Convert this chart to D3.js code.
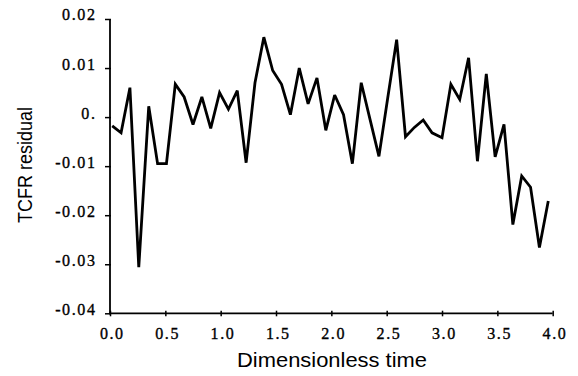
<!DOCTYPE html>
<html>
<head>
<meta charset="utf-8">
<script src="https://cdn.jsdelivr.net/npm/d3@7"></script>
<style>
  html, body { margin: 0; padding: 0; background: #fff; }
  svg { display: block; }
</style>
</head>
<body>
<svg id="chart" width="578" height="376"></svg>
<script>
// ---- data ----
const times = [0.02, 0.10, 0.18, 0.26, 0.35, 0.43, 0.51, 0.59, 0.67, 0.75,
               0.83, 0.91, 0.99, 1.07, 1.15, 1.23, 1.31, 1.39, 1.47, 1.55,
               1.63, 1.71, 1.79, 1.87, 1.95, 2.03, 2.11, 2.19, 2.27, 2.35,
               2.43, 2.51, 2.59, 2.67, 2.75, 2.83, 2.91, 3.00, 3.08, 3.16,
               3.24, 3.32, 3.40, 3.48, 3.56, 3.64, 3.72, 3.80, 3.88, 3.96];
const residuals = [-0.0018, -0.0032, 0.0060, -0.0306, 0.0022, -0.0095, -0.0095, 0.0067, 0.0041, -0.0015,
                   0.0041, -0.0023, 0.0050, 0.0016, 0.0054, -0.0093, 0.0070, 0.0163, 0.0095, 0.0067,
                   0.0005, 0.0100, 0.0027, 0.0080, -0.0027, 0.0045, 0.0005, -0.0095, 0.0070, -0.0005,
                   -0.0080, 0.0040, 0.0158, -0.0040, -0.0021, -0.0006, -0.0032, -0.0042, 0.0067, 0.0036,
                   0.0121, -0.0090, 0.0088, -0.0081, -0.0015, -0.0219, -0.0120, -0.0143, -0.0266, -0.0171];
const xTicks = [0, 0.5, 1.0, 1.5, 2.0, 2.5, 3.0, 3.5, 4.0];
const xTickLabels = ["0.0", "0.5", "1.0", "1.5", "2.0", "2.5", "3.0", "3.5", "4.0"];
const yTicks = [-0.04, -0.03, -0.02, -0.01, 0, 0.01, 0.02];
const yTickLabels = ["-0.04", "-0.03", "-0.02", "-0.01", "0.", "0.01", "0.02"];
const xTitle = "Dimensionless time";
const yTitle = "TCFR residual";

// ---- layout ----
const svg = d3.select("#chart");
const x = d3.scaleLinear().domain([0, 4]).range([110, 552.7]);
const y = d3.scaleLinear().domain([-0.04, 0.02]).range([313.3, 19]);

const tickFont = "'Liberation Serif', 'Times New Roman', serif";

// x axis
const xAxis = d3.axisBottom(x)
  .tickValues(xTicks)
  .tickFormat((d, i) => xTickLabels[i])
  .tickSize(3)
  .tickPadding(0);
const gx = svg.append("g").attr("transform", `translate(0,${y(-0.04)})`).call(xAxis);
gx.select(".domain").attr("d", `M${x(0) - 1},0H${x(4)}`).attr("stroke", "#000").attr("stroke-width", 1.8);
gx.selectAll(".tick line").attr("y1", -2.6).attr("y2", 3).attr("stroke", "#000").attr("stroke-width", 1.5);
gx.selectAll(".tick text")
  .attr("y", 26).attr("dy", null).attr("dx", 1.8)
  .attr("font-family", tickFont)
  .attr("font-size", 16).attr("letter-spacing", "1.6px")
  .attr("fill", "#000").attr("stroke", "#000").attr("stroke-width", 0.35);

// y axis
const yAxis = d3.axisLeft(y)
  .tickValues(yTicks)
  .tickFormat((d, i) => yTickLabels[i])
  .tickSize(5)
  .tickPadding(0);
const gy = svg.append("g").attr("transform", `translate(${x(0)},0)`).call(yAxis);
gy.select(".domain").attr("d", `M0,${y(0.02)}V${y(-0.04) + 1}`).attr("stroke", "#000").attr("stroke-width", 1.8);
gy.selectAll(".tick line").attr("x1", 1).attr("x2", -5).attr("stroke", "#000").attr("stroke-width", 1.5);
gy.selectAll(".tick text")
  .attr("x", -13.5).attr("dy", "0.06em").attr("y", 0)
  .attr("font-family", tickFont)
  .attr("font-size", 16).attr("letter-spacing", "1.6px")
  .attr("fill", "#000").attr("stroke", "#000").attr("stroke-width", 0.35);

// line
const line = d3.line()
  .x((d, i) => x(times[i]))
  .y(d => y(d));
svg.append("path")
  .datum(residuals)
  .attr("d", line)
  .attr("fill", "none")
  .attr("stroke", "#000")
  .attr("stroke-width", 2.8)
  .attr("stroke-linejoin", "miter")
  .attr("stroke-miterlimit", 3);

// titles
svg.append("text")
  .attr("x", 332).attr("y", 366.5)
  .attr("text-anchor", "middle")
  .attr("font-family", "'Liberation Sans', Arial, sans-serif")
  .attr("font-size", 19.5)
  .attr("textLength", 190).attr("lengthAdjust", "spacingAndGlyphs")
  .attr("fill", "#000")
  .text(xTitle);

svg.append("text")
  .attr("transform", "translate(31.5,165) rotate(-90)")
  .attr("text-anchor", "middle")
  .attr("font-family", "'Liberation Sans', Arial, sans-serif")
  .attr("font-size", 20)
  .attr("textLength", 116).attr("lengthAdjust", "spacingAndGlyphs")
  .attr("fill", "#000")
  .text(yTitle);
</script>
</body>
</html>
